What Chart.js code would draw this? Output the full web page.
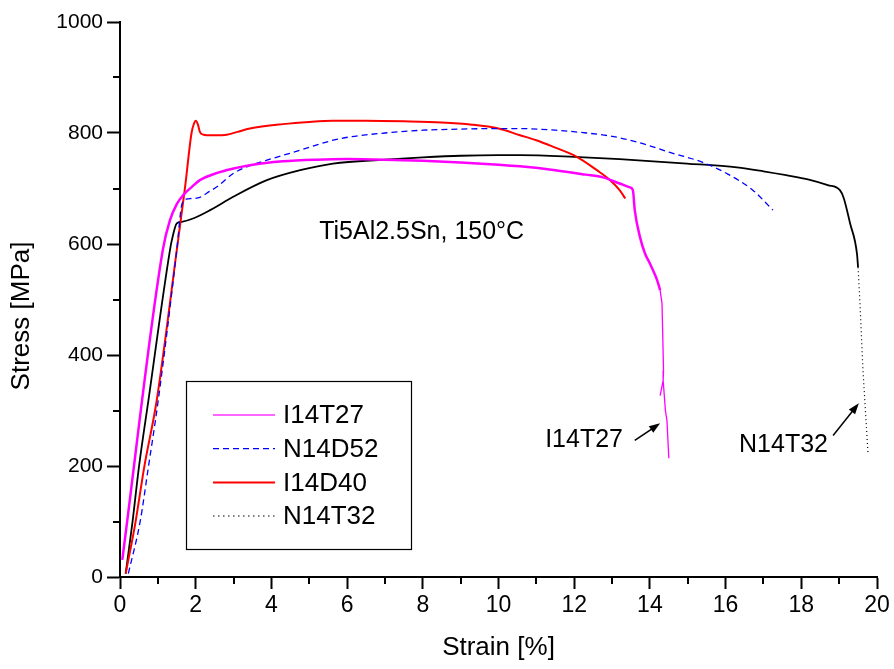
<!DOCTYPE html>
<html><head><meta charset="utf-8">
<script src="https://cdn.jsdelivr.net/npm/chart.js@4.4.1/dist/chart.umd.min.js"></script>
<style>html,body{margin:0;padding:0;background:#fff}#wrap{width:894px;height:669px}</style>
</head><body><div id="wrap"><canvas id="c" width="894" height="669"></canvas></div>
<script>
// ---- data (strain %, stress MPa) ----
const seriesNames = ['I14T27', 'N14D52', 'I14D40', 'N14T32'];

const i14t27Strain = [0.06, 1.13, 1.32, 1.5, 1.67, 1.9, 2.11, 2.56, 3.0, 3.43, 4.3, 5.2, 6.0, 7.0, 8.0, 9.0, 10.0, 10.57, 11.5, 12.3, 12.76, 13.2, 13.47, 13.55, 13.6, 13.74, 13.87, 14.0, 14.1, 14.19, 14.27];
const i14t27Stress = [31, 589, 643, 672, 688, 703, 715, 728, 736, 742, 749, 752, 753, 752, 750, 747, 743, 740, 733, 725, 720, 709, 702, 697, 661, 612, 583, 565, 550, 535, 517];
const i14t27TailStrain = [14.27, 14.32, 14.36, 14.35, 14.27, 14.35, 14.41, 14.45, 14.5];
const i14t27TailStress = [517, 493, 372, 354, 327, 354, 300, 282, 214];

const n14d52Strain = [0.22, 0.53, 0.75, 1.01, 1.5, 1.63, 1.75, 1.89, 2.11, 2.3, 2.56, 2.99, 3.43, 3.88, 4.76, 5.63, 6.08, 7.0, 8.0, 9.0, 10.0, 10.57, 11.5, 12.33, 13.0, 13.65, 14.53, 15.4, 16.03, 16.72, 17.25];
const n14d52Stress = [6, 99, 198, 318, 589, 670, 681, 682, 684, 692, 703, 727, 741, 751, 769, 787, 793, 800, 805, 807, 808, 808, 805, 800, 794, 784, 765, 747, 727, 697, 661];

const i14d40Strain = [0.15, 0.41, 0.64, 0.97, 1.5, 1.72, 1.89, 1.96, 2.0, 2.06, 2.11, 2.2, 2.29, 2.5, 2.82, 3.1, 3.43, 4.3, 5.0, 5.63, 6.5, 7.5, 8.5, 9.3, 10.0, 10.57, 11.0, 11.45, 12.07, 12.6, 12.95, 13.2, 13.35];
const i14d40Stress = [6, 99, 198, 318, 589, 703, 800, 818, 822, 815, 802, 797, 796, 796, 797, 802, 808, 816, 820, 822, 822, 821, 819, 815, 808, 796, 787, 775, 757, 733, 715, 697, 682];

const n14t32Strain = [0.15, 0.33, 0.5, 0.75, 1.32, 1.37, 1.5, 1.63, 1.93, 2.38, 2.99, 3.88, 4.76, 5.63, 7.0, 8.0, 9.0, 10.0, 10.57, 12.0, 13.2, 14.98, 16.3, 17.0, 17.6, 18.2, 18.7, 19.02, 19.12, 19.29, 19.47, 19.5];
const n14t32Stress = [6, 99, 198, 318, 589, 607, 637, 640, 646, 661, 685, 715, 733, 745, 752, 756, 759, 760, 760, 757, 753, 745, 738, 731, 724, 716, 706, 697, 683, 637, 583, 558];
const n14t32TailStrain = [19.5, 19.55, 19.63, 19.76];
const n14t32TailStress = [558, 493, 372, 225];

const xTicks = [0, 2, 4, 6, 8, 10, 12, 14, 16, 18, 20];
const yTicks = [0, 200, 400, 600, 800, 1000];
const xMinorTicks = [1, 3, 5, 7, 9, 11, 13, 15, 17, 19];
const yMinorTicks = [100, 300, 500, 700, 900];

const xTitle = 'Strain [%]';
const yTitle = 'Stress [MPa]';
const plotNote = {text: 'Ti5Al2.5Sn, 150°C', x: 7.97, y: 621};
const arrowNotes = [
  {text: 'I14T27', x: 12.26, y: 246, from: [13.6, 246], to: [14.27, 277]},
  {text: 'N14T32', x: 17.53, y: 237, from: [18.84, 255], to: [19.52, 313]}
];

const pts = (xs, ys) => xs.map((x, i) => ({x: x, y: ys[i]}));
const FONT = '"Liberation Sans", Arial, sans-serif';

const datasets = [
  {label: seriesNames[0], data: pts(i14t27Strain, i14t27Stress), borderColor: '#ff00ff', borderWidth: 2.5, legendColor: '#ff66ff', legendWidth: 2, cubicInterpolationMode: 'monotone'},
  {label: seriesNames[1], data: pts(n14d52Strain, n14d52Stress), borderColor: '#0000ff', borderWidth: 1.3, borderDash: [6, 4], cubicInterpolationMode: 'monotone'},
  {label: seriesNames[2], data: pts(i14d40Strain, i14d40Stress), borderColor: '#ff0000', borderWidth: 2, cubicInterpolationMode: 'monotone'},
  {label: seriesNames[3], data: pts(n14t32Strain, n14t32Stress), borderColor: '#000000', borderWidth: 1.8, legendColor: '#555555', legendDash: [1.5, 3.5], legendWidth: 1.5, cubicInterpolationMode: 'monotone'},
  {label: '', data: pts(i14t27TailStrain, i14t27TailStress), borderColor: '#ff00ff', borderWidth: 1.3},
  {label: '', data: pts(n14t32TailStrain, n14t32TailStress), borderColor: '#000000', borderWidth: 1.2, borderDash: [1, 3]}
].map(d => Object.assign({pointRadius: 0, tension: 0, fill: false}, d));

const decorPlugin = {
  id: 'decor',
  afterDraw(chart) {
    const ctx = chart.ctx, xs = chart.scales.x, ys = chart.scales.y, ca = chart.chartArea;
    ctx.save();
    // minor ticks
    ctx.strokeStyle = '#000'; ctx.lineWidth = 2;
    xMinorTicks.forEach(v => {
      const px = Math.round(xs.getPixelForValue(v));
      ctx.beginPath(); ctx.moveTo(px, ca.bottom); ctx.lineTo(px, ca.bottom + 7); ctx.stroke();
    });
    yMinorTicks.forEach(v => {
      const py = Math.round(ys.getPixelForValue(v));
      ctx.beginPath(); ctx.moveTo(ca.left, py); ctx.lineTo(ca.left - 7, py); ctx.stroke();
    });
    // axis titles
    ctx.fillStyle = '#000';
    ctx.font = '26px ' + FONT;
    ctx.textAlign = 'center'; ctx.textBaseline = 'middle';
    ctx.fillText(xTitle, (ca.left + ca.right) / 2, 648);
    ctx.save();
    ctx.translate(22, 316); ctx.rotate(-Math.PI / 2);
    ctx.fillText(yTitle, 0, 0);
    ctx.restore();
    // note
    ctx.font = '25px ' + FONT;
    ctx.fillText(plotNote.text, xs.getPixelForValue(plotNote.x), ys.getPixelForValue(plotNote.y));
    // arrow notes
    arrowNotes.forEach(n => {
      ctx.font = '25px ' + FONT;
      ctx.fillText(n.text, xs.getPixelForValue(n.x), ys.getPixelForValue(n.y));
      const x0 = xs.getPixelForValue(n.from[0]), y0 = ys.getPixelForValue(n.from[1]);
      const x1 = xs.getPixelForValue(n.to[0]), y1 = ys.getPixelForValue(n.to[1]);
      const a = Math.atan2(y1 - y0, x1 - x0);
      ctx.lineWidth = 1.5;
      ctx.beginPath(); ctx.moveTo(x0, y0); ctx.lineTo(x1 - 8 * Math.cos(a), y1 - 8 * Math.sin(a)); ctx.stroke();
      ctx.beginPath();
      ctx.moveTo(x1, y1);
      ctx.lineTo(x1 - 11 * Math.cos(a) + 4 * Math.sin(a), y1 - 11 * Math.sin(a) - 4 * Math.cos(a));
      ctx.lineTo(x1 - 11 * Math.cos(a) - 4 * Math.sin(a), y1 - 11 * Math.sin(a) + 4 * Math.cos(a));
      ctx.closePath(); ctx.fill();
    });
    // legend box
    const L = {x: ca.left + 66, y: 381, w: 225, h: 168};
    ctx.lineWidth = 1.2; ctx.strokeStyle = '#000';
    ctx.strokeRect(L.x + 0.5, L.y + 0.5, L.w, L.h);
    ctx.font = '26px ' + FONT;
    ctx.textAlign = 'left';
    chart.data.datasets.filter(d => d.label).forEach((d, i) => {
      const yy = L.y + 34 + i * 33.7;
      ctx.save();
      ctx.strokeStyle = d.legendColor || d.borderColor;
      ctx.lineWidth = d.legendWidth || d.borderWidth;
      ctx.setLineDash(d.legendDash || d.borderDash || []);
      ctx.beginPath(); ctx.moveTo(L.x + 27, yy); ctx.lineTo(L.x + 89, yy); ctx.stroke();
      ctx.restore();
      ctx.fillStyle = '#000';
      ctx.fillText(d.label, L.x + 97, yy + 1);
    });
    ctx.restore();
  }
};

new Chart(document.getElementById('c'), {
  type: 'line',
  data: {datasets: datasets},
  options: {
    responsive: false, animation: false, devicePixelRatio: 1,
    layout: {padding: {left: 0, top: 22, right: 17, bottom: 0}},
    plugins: {legend: {display: false}, tooltip: {enabled: false}},
    scales: {
      x: {
        type: 'linear', min: 0, max: 20,
        afterFit: s => { s.height = 92; },
        afterBuildTicks: s => { s.ticks = xTicks.map(v => ({value: v})); },
        ticks: {color: '#000', font: {family: FONT, size: 23}, padding: 3, maxRotation: 0, callback: v => String(v)},
        grid: {drawOnChartArea: false, drawTicks: true, tickLength: 12, tickWidth: 2, tickColor: '#000'},
        border: {display: true, color: '#000', width: 2}
      },
      y: {
        type: 'linear', min: 0, max: 1000,
        afterFit: s => { s.width = 120; },
        afterBuildTicks: s => { s.ticks = yTicks.map(v => ({value: v})); },
        ticks: {color: '#000', font: {family: FONT, size: 21}, padding: 4, callback: v => String(v)},
        grid: {drawOnChartArea: false, drawTicks: true, tickLength: 13, tickWidth: 2, tickColor: '#000'},
        border: {display: true, color: '#000', width: 2}
      }
    }
  },
  plugins: [decorPlugin]
});
</script></body></html>
